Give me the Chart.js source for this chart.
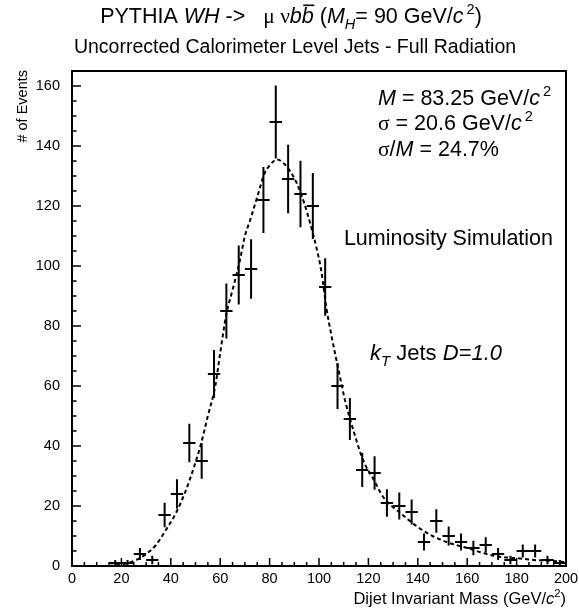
<!DOCTYPE html>
<html><head><meta charset="utf-8">
<script src="https://cdn.jsdelivr.net/npm/chart.js@4"></script>
<style>html,body{margin:0;padding:0;background:#fff}</style>
</head><body>
<canvas id="c" width="579" height="611"></canvas>
<script>
// ---- data ----
const massBins = [17.5,22.5,27.5,32.5,37.5,42.5,47.5,52.5,57.5,62.5,67.5,72.5,77.5,82.5,87.5,92.5,97.5,102.5,107.5,112.5,117.5,122.5,127.5,132.5,137.5,142.5,147.5,152.5,157.5,162.5,167.5,172.5,177.5,182.5,187.5,192.5,197.5];
const counts   = [1,1,4,2,17,24,41,35,64,85,97,99,122,148,129,124,120,93,60,49,32,31,21,20,18,8,15,10,8,6,7,4,2,5,5,2,1];
const countErrors = [1,1,2,1.4,4.1,4.9,6.4,5.9,8,9.2,9.8,9.9,11,12.2,11.4,11.1,11,9.6,7.7,7,5.7,5.6,4.6,4.5,4.2,2.8,3.9,3.2,2.8,2.4,2.6,2,1.4,2.2,2.2,1.4,1];
const binHalfWidth = 2.5;
const fitMass   = [15,20,22,26,30,34,38,42,46,49,52,55,58,60,62.5,65,68,70,72,75,78,80,83,86,88,91,94,96.5,99,101,103,105,108,110.6,114,118,122,126,133,140,146,153,160,167,173,180,187,194,200];
const fitEvents = [0,0.5,0.8,2,4,7,12,17.5,25,32,40,50,60,71,84,92,102,110,115,123,131,133.5,135.5,134,132,127.6,121,114,106,98,86,77,65,55,45,35,29,23,17.6,13,10,7.6,6,4.2,3.1,2.6,2,1.7,1.3];
const xTickValues = [0,20,40,60,80,100,120,140,160,180,200];
const yTickValues = [0,20,40,60,80,100,120,140,160];

const FONT = '"Liberation Sans", Arial, Helvetica, sans-serif';
const SERIF = '"Liberation Serif", "DejaVu Serif", serif';

function drawRich(ctx, segs, x, y, size, align) {
  const parts = segs.map(s => {
    const fs = (s.sub || s.sup) ? size * 0.68 : size;
    const f = (s.it ? 'italic ' : '') + fs + 'px ' + (s.serif ? SERIF : FONT);
    ctx.font = f;
    return {s, f, w: ctx.measureText(s.t).width + (s.gap || 0), fs};
  });
  const total = parts.reduce((a, p) => a + p.w, 0);
  let cx = align === 'center' ? x - total / 2 : (align === 'right' ? x - total : x);
  ctx.textBaseline = 'alphabetic';
  ctx.textAlign = 'left';
  for (const p of parts) {
    ctx.font = p.f;
    let dy = 0;
    if (p.s.sub) dy = size * 0.28;
    if (p.s.sup) dy = -size * 0.42;
    ctx.fillText(p.s.t, cx + (p.s.gap || 0), y + dy);
    if (p.s.bar) {
      const bw = ctx.measureText(p.s.bar).width;
      const bx = cx + p.w - bw;
      ctx.fillRect(bx + 1.5, y - size * 0.86, bw - 1, 1.6);
    }
    cx += p.w;
  }
  return total;
}

const overlay = {
  id: 'overlay',
  afterDatasetsDraw(chart) {
    const {ctx, chartArea: a, scales: {x, y}} = chart;
    ctx.save();
    ctx.strokeStyle = '#000';
    ctx.fillStyle = '#000';
    // error bar crosses
    ctx.lineWidth = 2;
    ctx.beginPath();
    massBins.forEach((m, i) => {
      const py = y.getPixelForValue(counts[i]);
      ctx.moveTo(x.getPixelForValue(m - binHalfWidth), py);
      ctx.lineTo(x.getPixelForValue(m + binHalfWidth), py);
      const e = countErrors[i];
      ctx.moveTo(x.getPixelForValue(m), y.getPixelForValue(Math.min(counts[i] + e, y.max)));
      ctx.lineTo(x.getPixelForValue(m), y.getPixelForValue(Math.max(counts[i] - e, 0)));
    });
    ctx.stroke();
    // frame
    ctx.lineWidth = 2;
    ctx.strokeRect(a.left, a.top, a.right - a.left, a.bottom - a.top);
    // inward ticks
    ctx.lineWidth = 1.5;
    ctx.beginPath();
    for (let v = 0; v <= 200; v += 5) {
      const px = x.getPixelForValue(v);
      const len = v % 20 === 0 ? 8 : 4;
      ctx.moveTo(px, a.bottom); ctx.lineTo(px, a.bottom - len);
    }
    for (let v = 0; v <= 160; v += 5) {
      const py = y.getPixelForValue(v);
      const len = v % 20 === 0 ? 9 : 4.5;
      ctx.moveTo(a.left, py); ctx.lineTo(a.left + len, py);
    }
    ctx.stroke();
    ctx.restore();
  },
  afterDraw(chart) {
    const {ctx} = chart;
    ctx.save();
    ctx.fillStyle = '#000';
    // titles
    drawRich(ctx, [
      {t: 'PYTHIA '}, {t: 'WH', it: true}, {t: ' ->   '}, {t: 'μ ν', serif: true},
      {t: 'bb', it: true, bar: 'b'}, {t: ' ('}, {t: 'M', it: true}, {t: 'H', it: true, sub: true},
      {t: '= 90 GeV/'}, {t: 'c', it: true}, {t: '2', sup: true, gap: 3}, {t: ')'}
    ], 291, 23, 21.5, 'center');
    drawRich(ctx, [{t: 'Uncorrected Calorimeter Level Jets - Full Radiation'}], 295, 53, 19.5, 'center');
    // annotations
    drawRich(ctx, [{t: 'M', it: true}, {t: ' = 83.25 GeV/'}, {t: 'c', it: true}, {t: '2', sup: true, gap: 3}], 378, 105, 21.5, 'left');
    drawRich(ctx, [{t: 'σ', serif: true}, {t: ' = 20.6 GeV/'}, {t: 'c', it: true}, {t: '2', sup: true, gap: 3}], 378, 130, 21.5, 'left');
    drawRich(ctx, [{t: 'σ', serif: true}, {t: '/'}, {t: 'M', it: true}, {t: ' = 24.7%'}], 378, 156, 21.5, 'left');
    drawRich(ctx, [{t: 'Luminosity Simulation'}], 553, 245, 21.5, 'right');
    drawRich(ctx, [{t: 'k', it: true}, {t: 'T', it: true, sub: true}, {t: ' Jets '}, {t: 'D=1.0', it: true}], 370, 360, 22, 'left');
    // axis titles
    drawRich(ctx, [{t: 'Dijet Invariant Mass (GeV/'}, {t: 'c', it: true}, {t: '2', sup: true}, {t: ')'}], 566, 604, 16.5, 'right');
    ctx.translate(27, 70);
    ctx.rotate(-Math.PI / 2);
    drawRich(ctx, [{t: '# of Events'}], 0, 0, 14.5, 'right');
    ctx.restore();
  }
};

new Chart(document.getElementById('c'), {
  type: 'scatter',
  data: {
    datasets: [
      {
        label: 'events',
        data: massBins.map((m, i) => ({x: m, y: counts[i]})),
        pointRadius: 0, showLine: false
      },
      {
        type: 'line',
        label: 'fit',
        data: fitMass.map((m, i) => ({x: m, y: fitEvents[i]})),
        borderColor: '#000', borderWidth: 2, borderDash: [4, 3],
        pointRadius: 0, fill: false, cubicInterpolationMode: 'monotone'
      }
    ]
  },
  options: {
    responsive: false, animation: false, devicePixelRatio: 1,
    layout: {padding: {top: 71, right: 13, left: 0, bottom: 0}},
    plugins: {legend: {display: false}, tooltip: {enabled: false}, title: {display: false}},
    scales: {
      x: {
        type: 'linear', min: 0, max: 200,
        afterBuildTicks: s => { s.ticks = xTickValues.map(v => ({value: v})); },
        afterFit: s => { s.height = 45; s.paddingRight = 0; },
        grid: {display: false, drawTicks: false, tickLength: 0},
        border: {display: false},
        ticks: {color: '#000', font: {family: FONT, size: 14.5}, padding: 4, maxRotation: 0, autoSkip: false}
      },
      y: {
        type: 'linear', min: 0, max: 165,
        afterBuildTicks: s => { s.ticks = yTickValues.map(v => ({value: v})); },
        afterFit: s => { s.width = 72; },
        grid: {display: false, drawTicks: false, tickLength: 0},
        border: {display: false},
        ticks: {color: '#000', font: {family: FONT, size: 14.5}, padding: 12}
      }
    }
  },
  plugins: [overlay]
});
</script>
</body></html>
